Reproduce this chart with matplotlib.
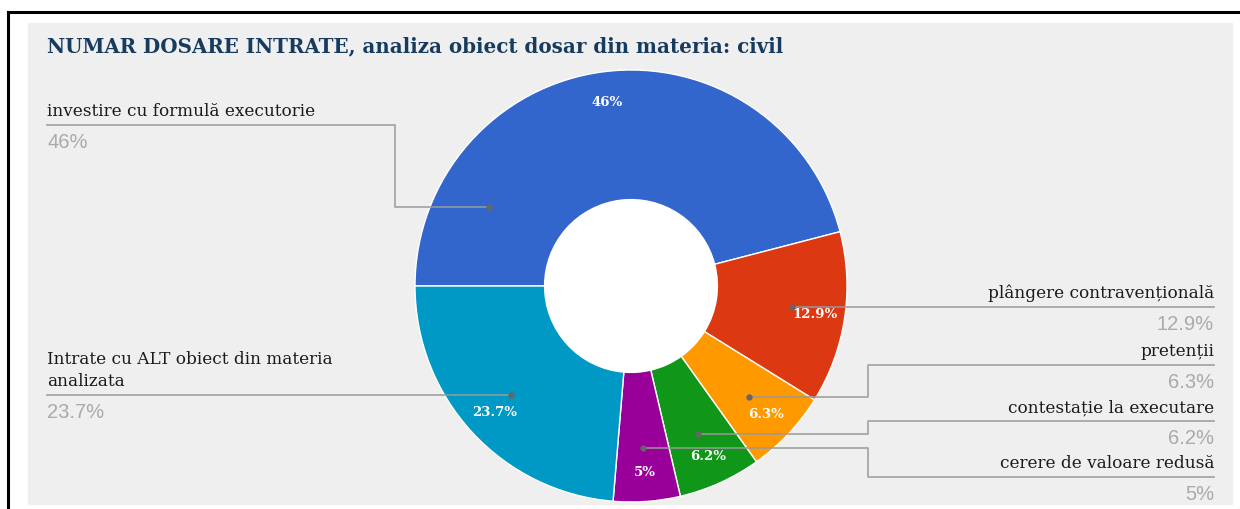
import numpy as np
import matplotlib.pyplot as plt
from matplotlib.patches import Rectangle, Circle

title = 'NUMAR DOSARE INTRATE, analiza obiect dosar din materia: civil'
categories = ['investire cu formulă executorie',
              'plângere contravențională',
              'pretenții',
              'contestație la executare',
              'cerere de valoare redusă',
              'Intrate cu ALT obiect din materia\nanalizata']
values = [46.0, 12.9, 6.3, 6.2, 5.0, 23.7]
colors = ['#3366cc', '#dc3912', '#ff9900', '#109618', '#990099', '#0099c6']

# layout of the external labels (pixels, y downwards)
W, H = 1240, 510
cx, cy, R = 631, 287, 216
leaders = [
    dict(side='left', x=47, line_y=126, elbow=395, anchor=151),
    dict(side='right', x=1214, line_y=308, elbow=None),
    dict(side='right', x=1214, line_y=366, elbow=868),
    dict(side='right', x=1214, line_y=422, elbow=868),
    dict(side='right', x=1214, line_y=478, elbow=868),
    dict(side='left', x=47, line_y=396, elbow=None),
]

serif = 'DejaVu Serif'
sans = 'Liberation Sans'

fig = plt.figure(figsize=(W / 100, H / 100), dpi=100)
fig.patch.set_facecolor('white')

bg = fig.add_axes([0, 0, 1, 1])
bg.set_xlim(0, W)
bg.set_ylim(H, 0)
bg.axis('off')
bg.add_patch(Rectangle((28, 24), 1204, 481, color='#efefef', zorder=0))
bg.plot([8, 8], [13, H], color='black', lw=2.2, solid_capstyle='projecting')
bg.plot([8, W], [13, 13], color='black', lw=2.2, solid_capstyle='projecting')

bg.text(47, 46, title, family=serif, fontweight='bold', fontsize=14.3,
        color='#173b5e', va='center', ha='left')

# donut
pax = fig.add_axes([(cx - R) / W, 1 - (cy + R) / H, 2 * R / W, 2 * R / H])
wedges, _ = pax.pie(values, colors=colors, startangle=180, counterclock=False,
                    radius=1, wedgeprops=dict(width=0.6, edgecolor='white', linewidth=1))
pax.add_patch(Circle((0, 0), 0.4, color='white', zorder=0))
pax.set_xlim(-1, 1)
pax.set_ylim(-1, 1)
pax.axis('off')

for w, v in zip(wedges, values):
    mid = np.radians((w.theta1 + w.theta2) / 2)
    pax.text(0.86 * np.cos(mid), 0.86 * np.sin(mid), f'{v:g}%', ha='center', va='center',
             color='white', fontsize=9.5, fontweight='bold', family=serif)

# overlay for leader lines and labels
ov = fig.add_axes([0, 0, 1, 1])
ov.set_xlim(0, W)
ov.set_ylim(H, 0)
ov.axis('off')

for w, v, lab, ld in zip(wedges, values, categories, leaders):
    r = 0.75 * R
    if ld['elbow'] is None:
        a = np.degrees(np.arcsin((cy - ld['line_y']) / r))
        if ld['side'] == 'left':
            a = 180 - a
    elif ld.get('anchor') is not None:
        a = ld['anchor']
    else:
        a = (w.theta1 + w.theta2) / 2
    dx = cx + r * np.cos(np.radians(a))
    dy = cy - r * np.sin(np.radians(a))
    if ld['elbow'] is None:
        xs, ys = [ld['x'], dx], [ld['line_y'], dy]
    else:
        xs = [ld['x'], ld['elbow'], ld['elbow'], dx]
        ys = [ld['line_y'], ld['line_y'], dy, dy]
    ov.plot(xs, ys, color='#9a9a9a', lw=1.3, alpha=0.85, zorder=3)
    ov.plot([dx], [dy], 'o', color='#666666', ms=3.5, zorder=4)
    ha = 'left' if ld['side'] == 'left' else 'right'
    ov.text(ld['x'], ld['line_y'] - 6, lab, ha=ha, va='bottom', family=serif,
            fontsize=12.2, color='#1a1a1a', linespacing=1.4)
    ov.text(ld['x'], ld['line_y'] + 7, f'{v:g}%', ha=ha, va='top', family=sans,
            fontsize=14.5, color='#aaaaaa')

fig.savefig('out.png', dpi=100)
